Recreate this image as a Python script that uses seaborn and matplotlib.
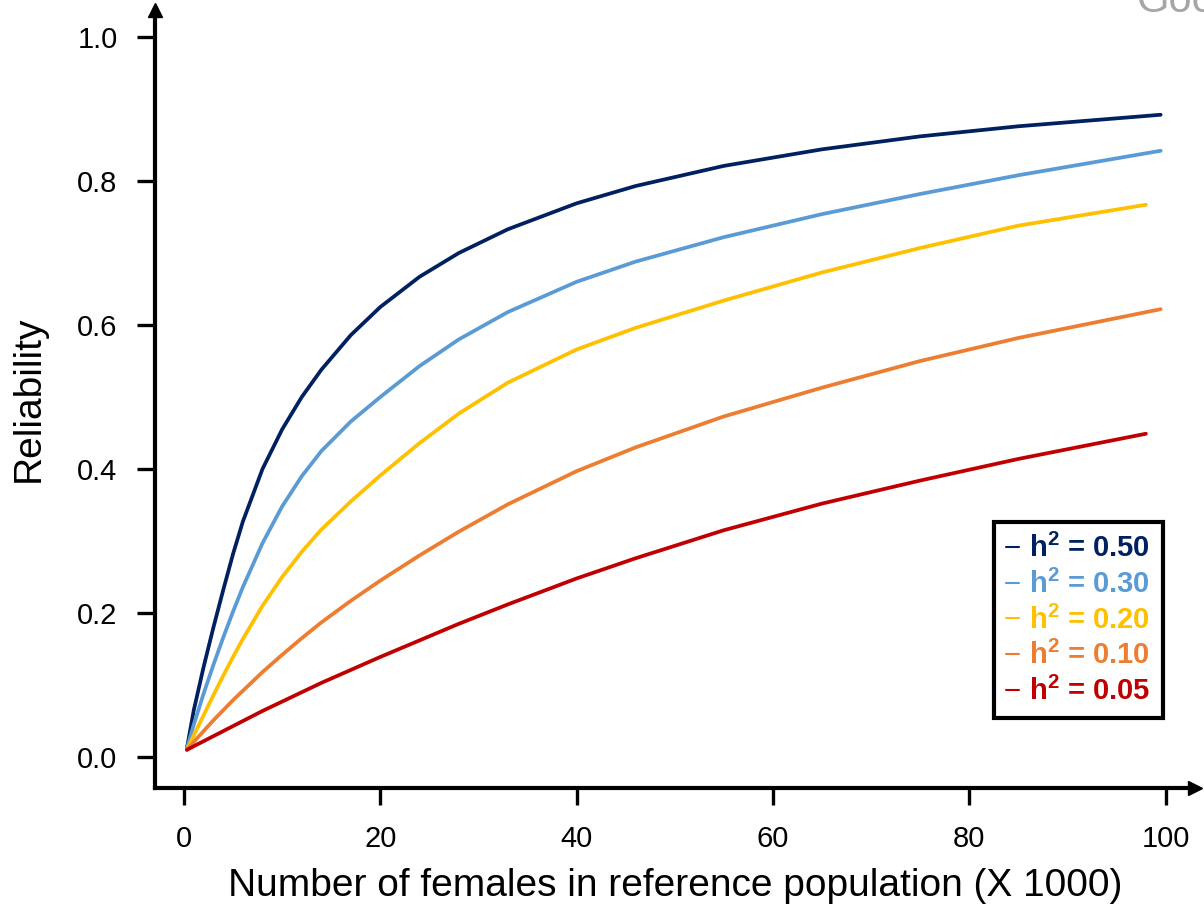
import matplotlib
matplotlib.use("Agg")
import matplotlib.pyplot as plt
from matplotlib.lines import Line2D
import numpy as np
import pandas as pd
import seaborn as sns

# ---------------- data ----------------
n_common = [0.3, 1, 2, 3, 4, 5, 6, 8, 10, 12, 14, 17, 20, 24, 28, 33, 40, 46, 55, 65, 75, 85]

h2_values = ["0.50", "0.30", "0.20", "0.10", "0.05"]
n_end = [99.5, 99.5, 98.0, 99.5, 98.0]

rel_050 = [0.012, 0.065, 0.125, 0.18, 0.232, 0.282, 0.327, 0.40, 0.455, 0.50, 0.538, 0.586, 0.625,
           0.667, 0.70, 0.733, 0.769, 0.793, 0.821, 0.844, 0.862, 0.876, 0.892]
rel_030 = [0.012, 0.045, 0.088, 0.128, 0.166, 0.202, 0.236, 0.297, 0.348, 0.39, 0.425, 0.466, 0.50,
           0.543, 0.58, 0.618, 0.66, 0.688, 0.722, 0.754, 0.782, 0.808, 0.842]
rel_020 = [0.01, 0.03, 0.058, 0.086, 0.113, 0.139, 0.164, 0.21, 0.25, 0.285, 0.316, 0.355, 0.391,
           0.436, 0.477, 0.52, 0.566, 0.596, 0.634, 0.673, 0.707, 0.738, 0.767]
rel_010 = [0.01, 0.021, 0.036, 0.051, 0.065, 0.079, 0.092, 0.118, 0.142, 0.165, 0.187, 0.217, 0.245,
           0.28, 0.313, 0.351, 0.397, 0.43, 0.473, 0.513, 0.55, 0.582, 0.622]
rel_005 = [0.01, 0.015, 0.022, 0.029, 0.036, 0.043, 0.05, 0.064, 0.077, 0.09, 0.103, 0.121, 0.139,
           0.162, 0.185, 0.212, 0.248, 0.276, 0.315, 0.352, 0.384, 0.414, 0.449]

series = [rel_050, rel_030, rel_020, rel_010, rel_005]
colors = ["#002060", "#5B9BD5", "#FFC000", "#ED7D31", "#C00000"]

x_ticks = [0, 20, 40, 60, 80, 100]
y_ticks = [0.0, 0.2, 0.4, 0.6, 0.8, 1.0]

rows = []
for lab, vals, xe in zip(h2_values, series, n_end):
    xs = n_common + [xe]
    for x, y in zip(xs, vals):
        rows.append({"n": x, "r": y, "h2": lab})
df = pd.DataFrame(rows)

# ---------------- style ----------------
sns.set_style("ticks")
plt.rcParams["font.family"] = ["Liberation Sans", "DejaVu Sans"]
plt.rcParams["text.color"] = "black"
plt.rcParams["axes.labelcolor"] = "black"
plt.rcParams["mathtext.fontset"] = "custom"
plt.rcParams["mathtext.rm"] = "Liberation Sans"
plt.rcParams["mathtext.bf"] = "Liberation Sans:bold"

W, H = 1204, 905
fig = plt.figure(figsize=(W / 100, H / 100), dpi=100)
ax_l, ax_r, ax_b, ax_t = 155, 1195, 788, 10
ax = fig.add_axes([ax_l / W, 1 - ax_b / H, (ax_r - ax_l) / W, (ax_b - ax_t) / H])

sns.lineplot(data=df, x="n", y="r", hue="h2", hue_order=h2_values,
             palette=colors, estimator=None, sort=False, linewidth=2.7,
             legend=False, ax=ax)
for ln in ax.get_lines():
    ln.set_solid_joinstyle("round")

ax.set_xlim(-2.95, 103)
ax.set_ylim(-0.043, 1.0375)
ax.set_xticks(x_ticks)
ax.set_xticklabels([f"{v:d}" for v in x_ticks])
ax.set_yticks(y_ticks)
ax.set_yticklabels([f"{v:.1f}" for v in y_ticks])

for s in ["top", "right"]:
    ax.spines[s].set_visible(False)
for s in ["left", "bottom"]:
    ax.spines[s].set_linewidth(3)
    ax.spines[s].set_color("black")

ax.tick_params(axis="y", direction="out", length=13, width=2.4, labelsize=21, pad=14,
               colors="black", labelcolor="black")
ax.tick_params(axis="x", direction="out", length=12, width=2.4, labelsize=21, pad=14.5,
               colors="black", labelcolor="black")

# arrow heads on the axes
ax.plot(1, 0, marker=">", color="black", markersize=10, transform=ax.transAxes, clip_on=False)
ax.plot(0, 1, marker="^", color="black", markersize=10, transform=ax.transAxes, clip_on=False)

ax.set_xlabel("Number of females in reference population (X 1000)", fontsize=28, labelpad=11)
ax.set_ylabel("Reliability", fontsize=28, labelpad=22)

# legend
labels = [r"$\mathbf{h^2}$ = " + v for v in h2_values]
handles = [Line2D([0], [0], color=c, linewidth=1.5) for c in colors]
leg = ax.legend(handles, labels, loc="upper right",
                bbox_to_anchor=(1163 / W, 1 - 522 / H), bbox_transform=fig.transFigure,
                borderaxespad=0, frameon=True, fancybox=False, framealpha=1,
                edgecolor="black", handlelength=0.45, handletextpad=0.35,
                labelspacing=0.22, borderpad=0.42,
                prop={"weight": "bold", "size": 21, "family": "Liberation Sans"})
leg.get_frame().set_linewidth(3)
for t, c in zip(leg.get_texts(), colors):
    t.set_color(c)

# clipped grey text at the top-right corner
fig.text(1137 / W, 1 - 12 / H, "Goo", color="#a6a6a6", fontsize=30, va="baseline", ha="left")

fig.savefig("out.png", dpi=100)
